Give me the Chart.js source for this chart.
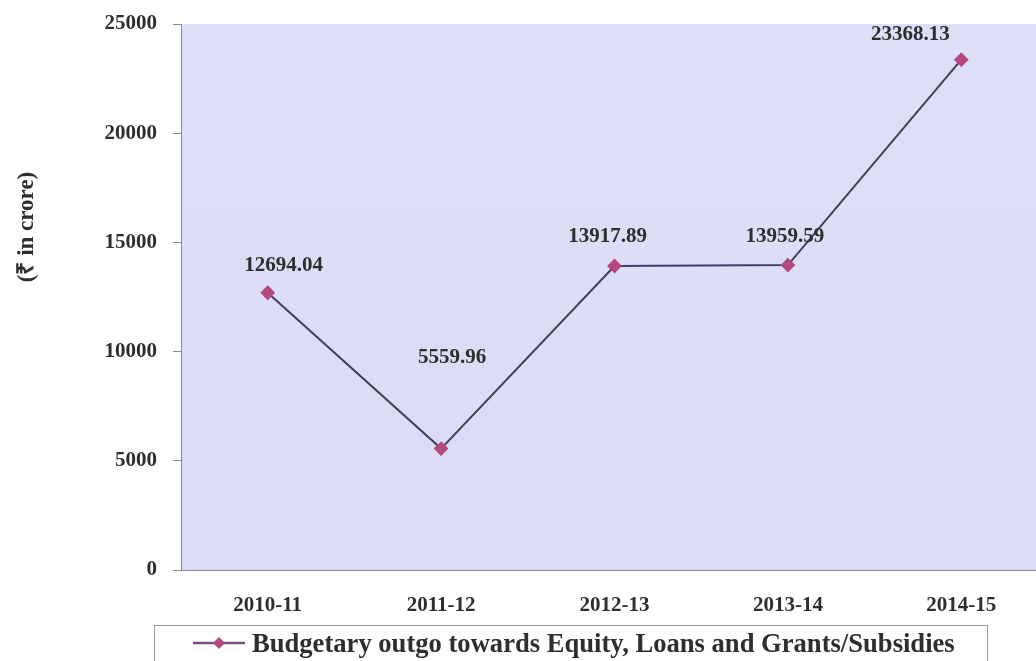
<!DOCTYPE html>
<html>
<head>
<meta charset="utf-8">
<script src="https://cdn.jsdelivr.net/npm/chart.js@4.4.1/dist/chart.umd.min.js"></script>
<style>
  html,body{margin:0;padding:0;background:#fff;overflow:hidden;}
  #wrap{width:1036px;height:661px;overflow:hidden;}
  #wrap canvas{display:block;}
</style>
</head>
<body>
<div id="wrap"><canvas id="outgo-chart" width="1056" height="661"></canvas></div>
<script>
const years=["2010-11","2011-12","2012-13","2013-14","2014-15"];
const outgo=[12694.04,5559.96,13917.89,13959.59,23368.13];
const yTicks=[0,5000,10000,15000,20000,25000];
const seriesName="Budgetary outgo towards Equity, Loans and Grants/Subsidies";
const axisTitle="(\u20B9 in crore)";

const serif="'Liberation Serif','Times New Roman',serif";
const textColor="#2e2e2e";

// lavender fill behind the plot
const plotBg={
  id:"plotBg",
  beforeDraw(chart){
    const {ctx,chartArea:a}=chart;
    ctx.save();
    const g=ctx.createLinearGradient(0,a.top,0,a.bottom);
    g.addColorStop(0,"#dcdff6");
    g.addColorStop(1,"#d9dcf4");
    ctx.fillStyle=g;
    ctx.fillRect(a.left,a.top,a.right-a.left,a.bottom-a.top);
    ctx.restore();
  }
};

// value labels next to each point, shifted per point
const valueLabels={
  id:"valueLabels",
  afterDatasetsDraw(chart,args,opts){
    const {ctx}=chart;
    const meta=chart.getDatasetMeta(0);
    ctx.save();
    ctx.font="bold 21px "+serif;
    ctx.fillStyle=textColor;
    ctx.textAlign="center";
    ctx.textBaseline="middle";
    meta.data.forEach((pt,i)=>{
      const s=opts.shift[i]||[0,-28];
      ctx.fillText(outgo[i].toFixed(2),pt.x+s[0],pt.y+s[1]);
    });
    ctx.restore();
  }
};

// rotated unit title and boxed legend drawn by hand
const extras={
  id:"extras",
  afterDraw(chart){
    const {ctx}=chart;
    const ds=chart.data.datasets[0];
    ctx.save();
    ctx.font="bold 23px "+serif;
    ctx.fillStyle=textColor;
    ctx.textAlign="center";
    ctx.textBaseline="middle";
    ctx.translate(27,227);
    ctx.rotate(-Math.PI/2);
    ctx.fillText(axisTitle,0,0);
    ctx.restore();

    ctx.save();
    ctx.strokeStyle="#9a9a9a";
    ctx.lineWidth=1;
    ctx.strokeRect(154.5,625.5,833,60);
    ctx.strokeStyle="#7a4f86";
    ctx.lineWidth=2.5;
    ctx.beginPath();
    ctx.moveTo(193,643);
    ctx.lineTo(245,643);
    ctx.stroke();
    ctx.fillStyle=ds.pointBackgroundColor;
    ctx.beginPath();
    ctx.moveTo(219,637);ctx.lineTo(225,643);ctx.lineTo(219,649);ctx.lineTo(213,643);
    ctx.closePath();
    ctx.fill();
    ctx.font="bold 26.6px "+serif;
    ctx.fillStyle=textColor;
    ctx.textAlign="left";
    ctx.textBaseline="middle";
    ctx.fillText(ds.label,252,645);
    ctx.restore();
  }
};

new Chart(document.getElementById("outgo-chart"),{
  type:"line",
  data:{
    labels:years,
    datasets:[{
      label:seriesName,
      data:outgo,
      borderColor:"#433c62",
      borderWidth:2,
      pointStyle:"rectRot",
      pointRadius:6,
      pointBackgroundColor:"#b4497f",
      pointBorderColor:"#b4497f",
      tension:0
    }]
  },
  options:{
    responsive:false,
    animation:false,
    layout:{padding:{top:24,right:3,left:0,bottom:0}},
    plugins:{
      legend:{display:false},
      tooltip:{enabled:false},
      valueLabels:{shift:[[16,-27],[11,-91],[-7,-29],[-3,-29],[-51,-25]]}
    },
    scales:{
      x:{
        offset:true,
        grid:{display:false,drawTicks:false},
        border:{display:true,color:"#8c8c8c",width:1},
        ticks:{font:{family:serif,size:21,weight:"bold"},color:textColor,padding:23,maxRotation:0},
        afterFit(s){s.height=91;}
      },
      y:{
        min:0,max:25000,
        afterBuildTicks(s){s.ticks=yTicks.map(v=>({value:v}));},
        grid:{drawOnChartArea:false,drawTicks:true,tickLength:8,color:"#8c8c8c"},
        border:{display:true,color:"#8c8c8c",width:1},
        ticks:{font:{family:serif,size:21,weight:"bold"},color:textColor,padding:16,callback:v=>String(v)},
        afterFit(s){s.width=181;s.paddingTop=0;s.paddingBottom=0;}
      }
    }
  },
  plugins:[plotBg,valueLabels,extras]
});
</script>
</body>
</html>
